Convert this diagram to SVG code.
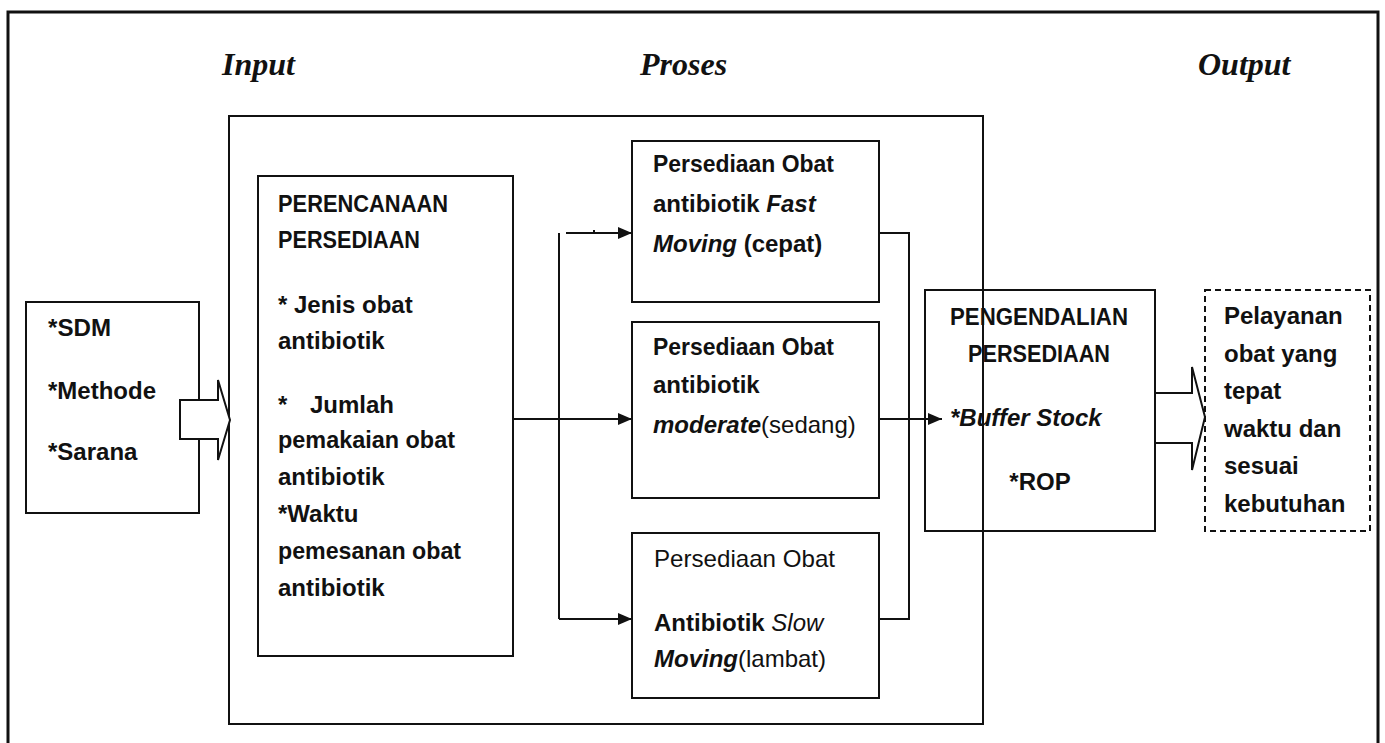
<svg xmlns="http://www.w3.org/2000/svg" width="1385" height="743" viewBox="0 0 1385 743">
  <style>
    .frame { fill: none; stroke: #111; stroke-width: 3; }
    .box { fill: none; stroke: #111; stroke-width: 2; }
    .dash { fill: none; stroke: #111; stroke-width: 2; stroke-dasharray: 6 4; }
    .line { fill: none; stroke: #111; stroke-width: 2; }
    .block { fill: #fff; stroke: #111; stroke-width: 2; stroke-linejoin: miter; }
    .hdr { font-family: "Liberation Serif", "Times New Roman", serif; font-weight: bold; font-style: italic; font-size: 32px; fill: #111; }
    .t { font-family: "Liberation Sans", Arial, sans-serif; font-weight: bold; font-size: 24px; fill: #111; }
    .i { font-style: italic; }
    .n { font-weight: normal; }
  </style>
  <defs>
    <marker id="arrow" viewBox="0 0 14 12" refX="14" refY="6" markerWidth="14" markerHeight="12" markerUnits="userSpaceOnUse" orient="auto">
      <path d="M0,0 L14,6 L0,12 Z" fill="#111"/>
    </marker>
  </defs>

  <rect width="1385" height="743" fill="#fff"/>

  <!-- page frame -->
  <rect class="frame" x="8" y="12" width="1370" height="760"/>

  <!-- column headings -->
  <g id="headings">
    <text class="hdr" x="222" y="75">Input</text>
    <text class="hdr" x="640" y="75">Proses</text>
    <text class="hdr" x="1198" y="75">Output</text>
  </g>

  <!-- process area -->
  <rect id="proses-area" class="box" x="229" y="116" width="754" height="608"/>

  <g id="input">
    <rect class="box" x="26" y="302" width="173" height="211"/>
    <text class="t" x="48" y="336" textLength="63" lengthAdjust="spacingAndGlyphs">*SDM</text>
    <text class="t" x="48" y="399">*Methode</text>
    <text class="t" x="48" y="460">*Sarana</text>
  </g>

  <g id="perencanaan">
    <rect class="box" x="258" y="176" width="255" height="480"/>
    <text class="t" x="278" y="212" textLength="170" lengthAdjust="spacingAndGlyphs">PERENCANAAN</text>
    <text class="t" x="278" y="248" textLength="142" lengthAdjust="spacingAndGlyphs">PERSEDIAAN</text>
    <text class="t" x="278" y="313">* Jenis obat</text>
    <text class="t" x="278" y="349">antibiotik</text>
    <text class="t" x="278" y="413">*</text>
    <text class="t" x="310" y="413">Jumlah</text>
    <text class="t" x="278" y="448" textLength="177" lengthAdjust="spacingAndGlyphs">pemakaian obat</text>
    <text class="t" x="278" y="485">antibiotik</text>
    <text class="t" x="278" y="522">*Waktu</text>
    <text class="t" x="278" y="559" textLength="183" lengthAdjust="spacingAndGlyphs">pemesanan obat</text>
    <text class="t" x="278" y="596">antibiotik</text>
  </g>

  <g id="fast-moving">
    <rect class="box" x="632" y="141" width="247" height="161"/>
    <text class="t" x="653" y="172" textLength="181" lengthAdjust="spacingAndGlyphs">Persediaan Obat</text>
    <text class="t" x="653" y="212">antibiotik <tspan class="i">Fast</tspan></text>
    <text class="t" x="653" y="252"><tspan class="i">Moving</tspan> (cepat)</text>
  </g>

  <g id="moderate">
    <rect class="box" x="632" y="322" width="247" height="176"/>
    <text class="t" x="653" y="355" textLength="181" lengthAdjust="spacingAndGlyphs">Persediaan Obat</text>
    <text class="t" x="653" y="393">antibiotik</text>
    <text class="t" x="653" y="433"><tspan class="i">moderate</tspan><tspan class="n">(sedang)</tspan></text>
  </g>

  <g id="slow-moving">
    <rect class="box" x="632" y="533" width="247" height="165"/>
    <text class="t n" x="654" y="567" textLength="181" lengthAdjust="spacingAndGlyphs">Persediaan Obat</text>
    <text class="t" x="654" y="631">Antibiotik  <tspan class="i n">Slow</tspan></text>
    <text class="t" x="654" y="667"><tspan class="i">Moving</tspan><tspan class="n">(lambat)</tspan></text>
  </g>

  <g id="pengendalian">
    <rect class="box" x="925" y="290" width="230" height="241"/>
    <text class="t" x="1039" y="325" text-anchor="middle" textLength="178" lengthAdjust="spacingAndGlyphs">PENGENDALIAN</text>
    <text class="t" x="1039" y="362" text-anchor="middle" textLength="142" lengthAdjust="spacingAndGlyphs">PERSEDIAAN</text>
    <text class="t i" x="950" y="426">*Buffer Stock</text>
    <text class="t" x="1040" y="490" text-anchor="middle">*ROP</text>
  </g>

  <g id="output">
    <rect class="dash" x="1205" y="290" width="165" height="241"/>
    <text class="t" x="1224" y="324">Pelayanan</text>
    <text class="t" x="1224" y="362">obat yang</text>
    <text class="t" x="1224" y="399">tepat</text>
    <text class="t" x="1224" y="437">waktu dan</text>
    <text class="t" x="1224" y="474">sesuai</text>
    <text class="t" x="1224" y="512">kebutuhan</text>
  </g>

  <g id="connectors">
    <!-- input block arrow -->
    <path class="block" d="M180,400 L218,400 L218,380 L230,420 L218,460 L218,439 L180,439 Z"/>
    <!-- planning to the three stock classes -->
    <path class="line" d="M513,419 L632,419" marker-end="url(#arrow)"/>
    <path class="line" d="M559,233 L559,619"/>
    <path class="line" d="M566,233 L632,233" marker-end="url(#arrow)"/>
    <path class="line" d="M594,230 L594,233"/>
    <path class="line" d="M559,619 L632,619" marker-end="url(#arrow)"/>
    <!-- stock classes to control -->
    <path class="line" d="M879,233 L909,233 L909,619 L879,619"/>
    <path class="line" d="M879,419 L942,419" marker-end="url(#arrow)"/>
    <!-- output block arrow -->
    <path class="line" d="M1155,393 L1192,393 L1192,367 L1205,417 L1192,470 L1192,443 L1155,443"/>
  </g>
</svg>
